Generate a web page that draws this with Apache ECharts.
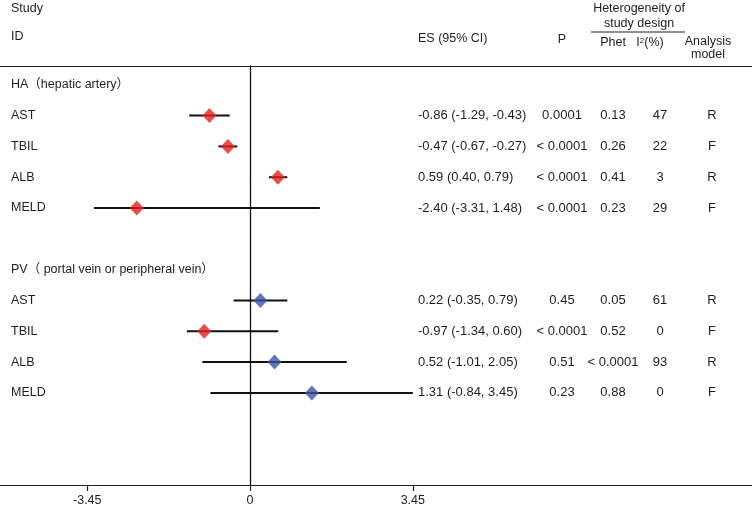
<!DOCTYPE html>
<html><head><meta charset="utf-8">
<script src="https://cdn.jsdelivr.net/npm/echarts@6/dist/echarts.min.js"></script>
<style>html,body{margin:0;padding:0;background:#fff}#c{width:752px;height:516px}</style>
</head><body><div id="c"></div>
<script>
// ---- data ----
const groupNames = ['HA（hepatic artery）', 'PV（ portal vein or peripheral vein）'];
const outcomes = ['AST', 'TBIL', 'ALB', 'MELD'];

const haES   = [-0.86, -0.47, 0.59, -2.40];
const haLow  = [-1.29, -0.67, 0.40, -3.31];
const haHigh = [-0.43, -0.27, 0.79, 1.48];
const haP    = ['0.0001', '< 0.0001', '< 0.0001', '< 0.0001'];
const haPhet = ['0.13', '0.26', '0.41', '0.23'];
const haI2   = ['47', '22', '3', '29'];
const haModel = ['R', 'F', 'R', 'F'];

const pvES   = [0.22, -0.97, 0.52, 1.31];
const pvLow  = [-0.35, -1.34, -1.01, -0.84];
const pvHigh = [0.79, 0.60, 2.05, 3.45];
const pvP    = ['0.45', '< 0.0001', '0.51', '0.23'];
const pvPhet = ['0.05', '0.52', '< 0.0001', '0.88'];
const pvI2   = ['61', '0', '93', '0'];
const pvModel = ['R', 'F', 'R', 'F'];

const tickValues = [-3.45, 0, 3.45];
const tickLabels = ['-3.45', '0', '3.45'];

// ---- styling ----
const RED = '#e3211f', BLUE = '#3a55a6';
const markerColors = [[RED, RED, RED, RED], [BLUE, RED, BLUE, BLUE]];
const FONT = '"Liberation Sans", Arial, "Noto Sans CJK SC", sans-serif';
const FS = 12.5;
const FSV = 13;
const TXT = '#1e1e1e';

const groups = [
  {es: haES, low: haLow, high: haHigh, p: haP, phet: haPhet, i2: haI2, model: haModel},
  {es: pvES, low: pvLow, high: pvHigh, p: pvP, phet: pvPhet, i2: pvI2, model: pvModel}
];

// build rows
const rows = [];
groups.forEach((g, gi) => {
  const base = gi * 6;
  rows.push({row: base, label: groupNames[gi], isHeader: true});
  outcomes.forEach((o, k) => {
    const f = v => v.toFixed(2);
    rows.push({
      row: base + 1 + k, label: o, es: g.es[k], low: g.low[k], high: g.high[k],
      esText: f(g.es[k]) + ' (' + f(g.low[k]) + ', ' + f(g.high[k]) + ')',
      p: g.p[k], phet: g.phet[k], i2: g.i2[k], model: g.model[k],
      color: markerColors[gi][k]
    });
  });
});
const dataRows = rows.filter(r => !r.isHeader);

const chart = echarts.init(document.getElementById('c'), null, {renderer: 'canvas'});

function txt(x, y, s, align, size) {
  return {type: 'text', x: x, y: y, style: {text: s, fill: TXT, font: (size || FS) + 'px ' + FONT, align: align || 'left', verticalAlign: 'middle'}};
}

const option = {
  animation: false,
  backgroundColor: '#fff',
  grid: {left: 0, right: 0, top: 66, bottom: 31},
  xAxis: [
    {
      type: 'value', min: -5.3, max: 10.64, position: 'bottom',
      axisLine: {show: true, onZero: false, lineStyle: {color: '#222', width: 1.2}},
      axisTick: {show: true, customValues: tickValues, length: 6, inside: false, lineStyle: {color: '#222', width: 1.2}},
      axisLabel: {show: true, customValues: tickValues, margin: 9, color: TXT, fontSize: 12.5, fontFamily: FONT,
        formatter: v => { const i = tickValues.indexOf(v); return i >= 0 ? tickLabels[i] : ''; }},
      splitLine: {show: false}
    },
    {
      type: 'value', min: -5.3, max: 10.64, position: 'top',
      axisLine: {show: true, onZero: false, lineStyle: {color: '#222', width: 1.2}},
      axisTick: {show: false}, axisLabel: {show: false}, splitLine: {show: false}
    }
  ],
  yAxis: {
    type: 'value', inverse: true, min: -0.61, max: 12.99,
    axisLine: {show: true, onZero: true, lineStyle: {color: '#111', width: 1.3}},
    axisTick: {show: false}, axisLabel: {show: false}, splitLine: {show: false}
  },
  graphic: [
    txt(11, 9, 'Study'),
    txt(11, 37, 'ID'),
    txt(418, 39, 'ES (95% CI)'),
    txt(562, 40, 'P', 'center'),
    txt(639, 9, 'Heterogeneity of', 'center'),
    txt(639, 24, 'study design', 'center'),
    {type: 'line', shape: {x1: 591, y1: 32, x2: 685, y2: 32}, style: {stroke: '#222', lineWidth: 1.2}},
    txt(613, 43, 'Phet', 'center'),
    {type: 'text', x: 650, y: 43, style: {rich: {a: {fontSize: FS, fontFamily: FONT, fill: TXT}, s: {fontSize: 8, fontFamily: FONT, fill: TXT, verticalAlign: 'top', padding: [0,0,4,0]}}, text: '{a|I}{s|2}{a|(%)}', align: 'center', verticalAlign: 'middle'}},
    txt(708, 42, 'Analysis', 'center'),
    txt(708, 55, 'model', 'center')
  ],
  series: [
    {
      type: 'custom', name: 'ci',
      data: dataRows.map(r => [r.low, r.high, r.row]),
      encode: {x: [0, 1], y: 2},
      clip: false,
      renderItem: (params, api) => {
        const a = api.coord([api.value(0), api.value(2)]);
        const b = api.coord([api.value(1), api.value(2)]);
        return {type: 'line', shape: {x1: a[0], y1: a[1], x2: b[0], y2: b[1]}, style: {stroke: '#111', lineWidth: 2}};
      },
      z: 2
    },
    {
      type: 'scatter', name: 'es',
      symbol: 'diamond', symbolSize: [14, 15],
      data: dataRows.map(r => ({value: [r.es, r.row], itemStyle: {color: r.color}})),
      z: 3
    },
    {
      type: 'custom', name: 'text',
      data: rows.map(r => [0, r.row]),
      encode: {x: 0, y: 1},
      clip: false,
      renderItem: (params, api) => {
        const r = rows[params.dataIndex];
        const y = api.coord([0, api.value(1)])[1];
        const children = [txt(11, y, r.label, 'left', FS)];
        if (!r.isHeader) {
          children.push(txt(418, y, r.esText, 'left', FSV));
          children.push(txt(562, y, r.p, 'center', FSV));
          children.push(txt(613, y, r.phet, 'center', FSV));
          children.push(txt(660, y, r.i2, 'center', FSV));
          children.push(txt(712, y, r.model, 'center', FSV));
        }
        return {type: 'group', children: children};
      },
      z: 4
    }
  ]
};
chart.setOption(option);
</script></body></html>
